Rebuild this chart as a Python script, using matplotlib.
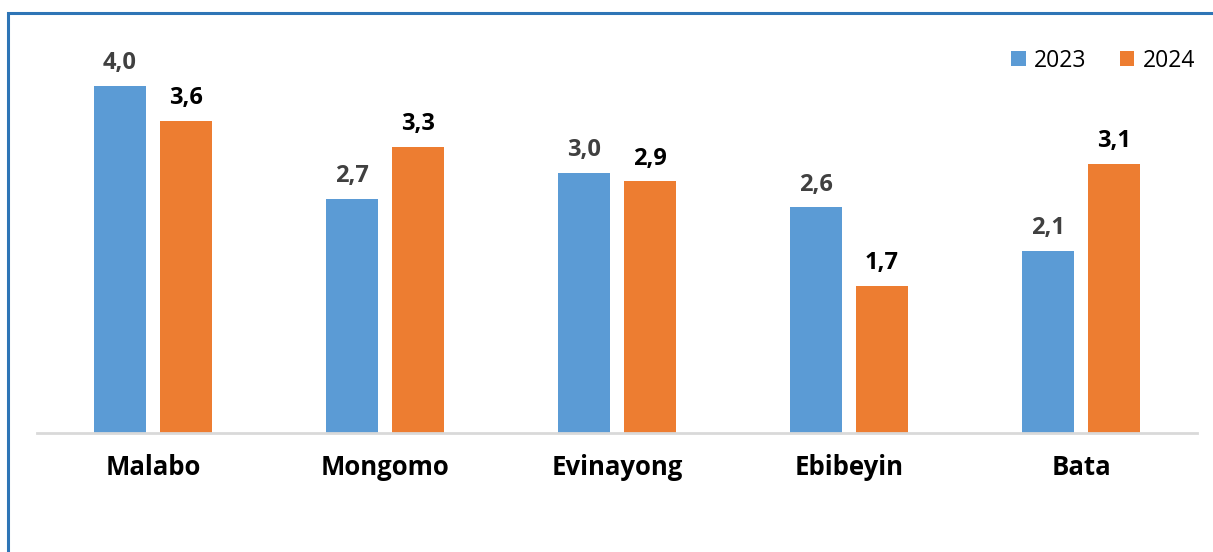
import matplotlib
matplotlib.use("Agg")
import matplotlib.pyplot as plt
import numpy as np
from matplotlib.patches import Rectangle

cities = ["Malabo", "Mongomo", "Evinayong", "Ebibeyin", "Bata"]
vals_2023 = [4.0, 2.7, 3.0, 2.6, 2.1]
vals_2024 = [3.6, 3.3, 2.9, 1.7, 3.1]
series = ["2023", "2024"]

BLUE = "#5B9BD5"
ORANGE = "#ED7D31"
FRAME = "#2E75B6"

plt.rcParams["font.family"] = ["Open Sans", "DejaVu Sans"]

fig = plt.figure(figsize=(12.13, 5.52), dpi=100)
W, H = 1213, 552
ax = fig.add_axes([37 / W, 1 - 433 / H, (1197 - 37) / W, (433 - 42.6) / H])

x = np.arange(len(cities))
bw = 0.224
off = (bw + 0.06) / 2
b1 = ax.bar(x - off, vals_2023, bw, color=BLUE, label=series[0], zorder=2)
b2 = ax.bar(x + off, vals_2024, bw, color=ORANGE, label=series[1], zorder=2)

for bars, col in ((b1, "#404040"), (b2, "black")):
    for r in bars:
        v = r.get_height()
        ax.annotate("{:.1f}".format(v).replace(".", ","),
                    (r.get_x() + r.get_width() / 2, v), xytext=(0, 12),
                    textcoords="offset points", ha="center", va="baseline",
                    fontsize=17, fontweight="bold", color=col)

ax.set_xlim(-0.5, len(cities) - 0.5)
ax.set_ylim(0, 4.5)
ax.set_yticks([])
ax.set_xticks(x)
ax.set_xticklabels(cities, fontsize=18.5, fontweight="bold", color="black")
ax.tick_params(axis="x", length=0, pad=15)
for s in ("top", "right", "left"):
    ax.spines[s].set_visible(False)
ax.spines["bottom"].set_color("#D9D9D9")
ax.spines["bottom"].set_linewidth(2)

ax.legend(loc="upper right", bbox_to_anchor=(1.006, 1.008), ncol=2, frameon=False,
          fontsize=16.5, handlelength=0.65, handleheight=0.65, handletextpad=0.35,
          columnspacing=1.45, borderaxespad=0.0)

# outer frame (right and bottom edges run off the canvas)
fig.patches.append(Rectangle((8 / W, -0.1), 1.2, 1 - 12.5 / H + 0.1,
                             transform=fig.transFigure, fill=False,
                             edgecolor=FRAME, linewidth=2.2, clip_on=False))

fig.savefig("out.png", dpi=100, facecolor="white")
